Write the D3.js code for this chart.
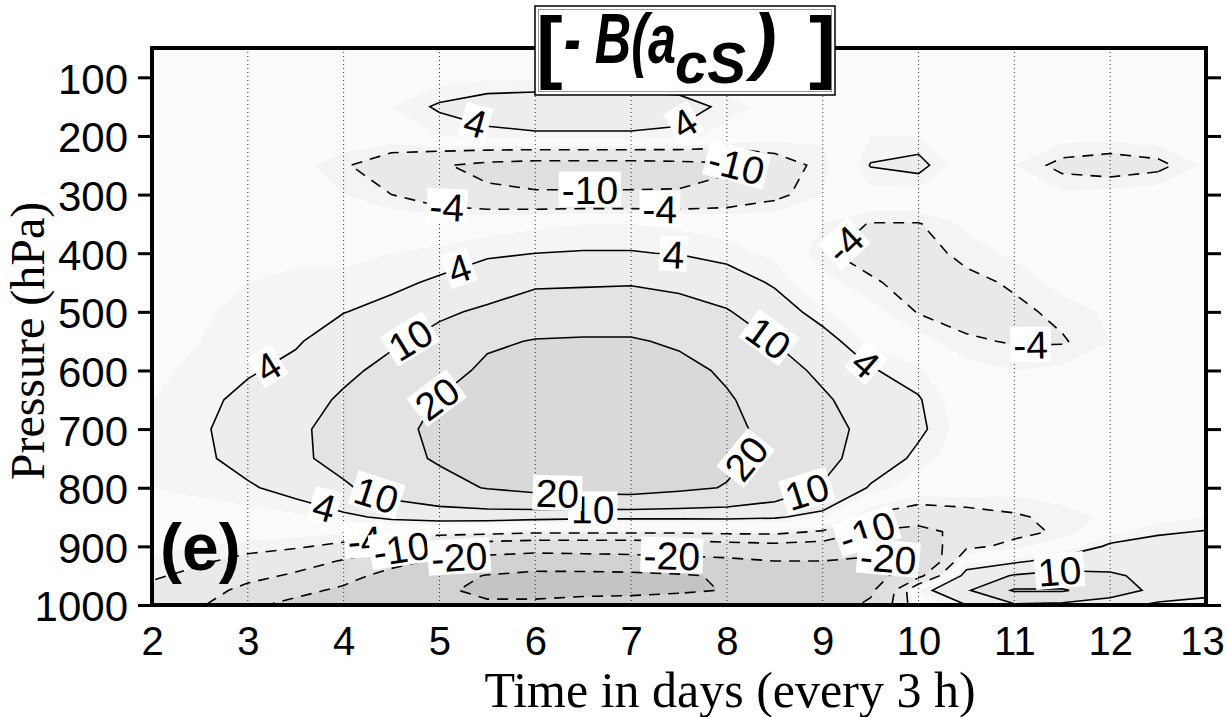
<!DOCTYPE html>
<html>
<head>
<meta charset="utf-8">
<script src="https://cdn.jsdelivr.net/npm/d3@7"></script>
<style>
  body { margin: 0; background: #fff; }
  svg { display: block; }
</style>
</head>
<body>
<svg id="chart" width="1227" height="717"></svg>
<script>
// grid columns: time in days, rows: pressure levels (hPa), top to bottom
var days = [2, 2.5, 3, 3.5, 4, 4.5, 5, 5.5, 6, 6.5, 7, 7.5, 8, 8.5, 9, 9.5, 10, 10.5, 11, 11.5, 12, 12.5, 13];
var levels = [50, 100, 150, 200, 250, 300, 350, 400, 450, 500, 550, 600, 650, 700, 750, 800, 850, 875, 900, 925, 950, 975, 1000];

// -B(acS), one row per pressure level
var field = [
  /*  50 */ [0, 0, 0, 0, 0, 0, 0, 0, 0, 0, 0, 0, 0, 0, 0, 0, 0, 0, 0, 0, 0, 0, 0],
  /* 100 */ [0, 0, 0, 0, 0, 0.5, 1, 1.5, 1.5, 1.5, 1.5, 1, 0.5, 0, 0, 0, 0, 0, 0, 0, 0, 0, 0],
  /* 150 */ [0, 0, 0, 0, 0.5, 2, 4.5, 6, 6.5, 6.5, 6.5, 6, 3, 1, 0, 0, 0, 0, 0, 0, 0, 0, 0],
  /* 200 */ [0, 0, 0, 0, 0, 0, 2, 3, 3.5, 3.5, 3.5, 3, 1, -1, -1.5, 2, 2, 0.5, -0.5, -1, -1, -0.5, 0],
  /* 250 */ [0, 0, 0, -1, -3.5, -7, -9.5, -11.5, -12.5, -12.5, -12.5, -12, -11, -6, -3, 4.2, 5.2, 0, -2, -5, -6, -5, -1.5],
  /* 300 */ [0, 0, 0, -0.5, -2, -4, -7, -9, -9.5, -9.5, -9.5, -9.5, -8, -5, -2, 1, 1, 0, -1, -1.5, -1, -0.5, 0],
  /* 350 */ [0, 0, 0.5, 0.5, 0.5, 0, 0.5, 1, 1.5, 2, 2, 1.5, 1, 0, -2, -4.2, -4.2, -1.5, 0, 0, 0, 0, 0],
  /* 400 */ [0, 0.5, 1, 1.5, 1.5, 2, 2.5, 3.3, 4, 4.2, 4.2, 3.8, 2.8, 1.5, -3.5, -5.5, -5.5, -3, -1.5, 0, 0, 0, 0],
  /* 450 */ [0.5, 1, 2, 2.5, 2.5, 3.3, 4.5, 7, 9, 9.2, 9.5, 8.5, 6, 3.5, -1, -3.5, -5.5, -5, -3.5, -1, 0, 0, 0],
  /* 500 */ [1, 1.5, 3, 3.5, 3.9, 5, 9, 11, 13.5, 14, 14, 12.5, 10.5, 6, 2.5, -1, -4.2, -5.5, -4.8, -3.2, -1.5, 0, 0],
  /* 550 */ [1, 2, 3.5, 3.6, 6, 9, 12, 18.5, 20.5, 21, 21, 18.5, 15, 9.8, 5.5, 1.5, -1, -3.5, -4.3, -4.3, -2, 0, 0],
  /* 600 */ [1.5, 2.5, 3.6, 5, 8.5, 12, 16, 22, 25, 26, 26, 23, 18.5, 13, 8.5, 4.3, 2.5, -1, -2, -1.5, -0.5, 0, 0],
  /* 650 */ [2, 3, 5, 7, 11, 15, 20.5, 25, 28, 29, 28.5, 26, 21, 15.5, 11, 6.5, 4.3, 0, -0.5, 0, 0, 0, 0],
  /* 700 */ [2.5, 3.4, 6, 8.5, 13, 17.5, 22, 26, 29, 30, 29, 27, 22.5, 17, 12.5, 8, 4.8, 0.5, 0, 0, 0, 0, 0],
  /* 750 */ [2.5, 3.2, 5.5, 8.5, 12.5, 17, 21, 25, 28, 29, 28, 26, 22, 17, 12, 7, 3, 0.5, 0, 0, 0, 0, 0],
  /* 800 */ [2, 2.5, 3.5, 5.5, 9, 13.5, 17, 20.5, 23, 24, 24.5, 22, 19.5, 15, 9.5, 3.5, 0, 0, -1, -0.5, 0, 0.5, 1],
  /* 850 */ [1, 1, 1, 1.5, 3, 5, 6, 6, 5.5, 5, 5, 5, 5, 4.5, 2.5, -5, -7, -6, -4.5, -3, -1.5, 1, 2],
  /* 875 */ [0, 0, -0.5, -1, -1.5, -1, -1.5, -2, -3, -3, -3, -3, -2.5, -2.5, -4.5, -10.5, -12, -8, -5, -3.5, 1, 3.5, 4.2],
  /* 900 */ [-1, -2, -3, -3.5, -5, -8, -12, -14, -15, -15, -15, -14.5, -13, -12, -13, -15, -15, -5, -3, 0, 4.8, 5.5, 6],
  /* 925 */ [-2.5, -3.5, -5, -7, -10.5, -16, -22, -24, -26, -25, -24, -23, -22, -20, -20, -22, -20, 1, 3, 6, 7, 7, 7],
  /* 950 */ [-3.5, -5, -8, -11, -16, -24, -33, -41, -46, -46, -45, -42, -38, -32, -26, -25, -12, 6, 10.5, 12, 11, 8, 7],
  /* 975 */ [-5, -7, -12, -17, -22, -30, -38, -43, -46, -45, -44, -42, -39.5, -35, -28, -22, 2, 9, 21, 21, 14, 8, 6],
  /* 1000 */ [-7, -9, -18, -23, -28, -34, -39, -38, -36, -33, -33, -32, -32, -30, -26, -18, 0, 4, 9, 8, 6, 3, 2]
];

var contourLevels = [-40, -20, -10, -4, 4, 10, 20, 40];
var shadeLevels = [-40, -20, -10, -4, -2, 2, 4, 10, 20, 40];
var dayTicks = [2, 3, 4, 5, 6, 7, 8, 9, 10, 11, 12, 13];
var hpaTicks = [100, 200, 300, 400, 500, 600, 700, 800, 900, 1000];
var gridDays = [3, 4, 5, 6, 7, 8, 9, 10, 11, 12];

// where the contour labels sit: [level, day, hPa]
var labelSpots = [
  [4, 3.23, 599], [4, 5.2, 423], [4, 7.44, 408], [4, 9.44, 590], [4, 3.8, 833],
  [10, 4.7, 548], [10, 8.42, 548], [10, 4.36, 804], [10, 6.6, 842], [10, 8.84, 809],
  [20, 4.93, 638], [20, 8.24, 753], [20, 6.23, 816],
  [4, 5.35, 192], [4, 7.58, 185],
  [-4, 5.08, 314], [-10, 6.57, 297], [-4, 7.3, 325], [-10, 8.14, 240],
  [-4, 9.23, 385], [-4, 11.17, 556],
  [-4, 4.22, 890], [-10, 4.6, 903], [-20, 5.2, 903], [-20, 7.43, 885],
  [-10, 9.44, 864], [-20, 9.68, 929], [10, 11.46, 919]
];

var sans = "'Liberation Sans', Arial, Helvetica, sans-serif";
var serif = "'Liberation Serif', 'Times New Roman', Times, serif";

var pL = 152, pR = 1206, pT = 48, pB = 605;
var svg = d3.select("#chart");

var x = d3.scaleLinear().domain([2, 13]).range([pL, pR]);
var y = d3.scaleLinear().domain([50, 1000]).range([pT, pB]);

// grid units -> data units (value i sits at i + 0.5 in d3.contours)
var n = days.length, m = levels.length;
var colDay = d3.scaleLinear().domain(d3.range(n).map(function(i) { return i + 0.5; })).range(days).clamp(true);
var rowHpa = d3.scaleLinear().domain(d3.range(m).map(function(j) { return j + 0.5; })).range(levels).clamp(true);

var grid = [];
field.forEach(function(row) { grid = grid.concat(row); });

var proj = d3.geoTransform({
  point: function(cx, cy) { this.stream.point(x(colDay(cx)), y(rowHpa(cy))); }
});
var path = d3.geoPath(proj);

svg.append("defs").append("clipPath").attr("id", "plot")
  .append("rect").attr("x", pL).attr("y", pT).attr("width", pR - pL).attr("height", pB - pT);

var plot = svg.append("g").attr("clip-path", "url(#plot)");

// shading
var shadeColors = ["#d2d2d2", "#dfdfdf", "#e9e9e9", "#f4f4f4", "#fbfbfb", "#f5f5f5", "#ededed", "#e3e3e3", "#d9d9d9", "#cdcdcd"];
plot.append("rect").attr("x", pL).attr("y", pT).attr("width", pR - pL).attr("height", pB - pT)
  .attr("fill", "#c4c4c4");
var shade = d3.contours().size([n, m]).thresholds(shadeLevels)(grid);
plot.selectAll("path.shade").data(shade).join("path")
  .attr("class", "shade")
  .attr("d", path)
  .attr("fill", function(d, i) { return shadeColors[i]; });

// dotted day lines
plot.selectAll("line.grid").data(gridDays).join("line")
  .attr("class", "grid")
  .attr("x1", function(d) { return x(d); }).attr("x2", function(d) { return x(d); })
  .attr("y1", pT).attr("y2", pB)
  .attr("stroke", "#333").attr("stroke-width", 1).attr("stroke-dasharray", "1,3");

// contour lines
var lines = d3.contours().size([n, m]).thresholds(contourLevels)(grid);
plot.selectAll("path.iso").data(lines).join("path")
  .attr("class", "iso")
  .attr("d", path)
  .attr("fill", "none")
  .attr("stroke", "#000")
  .attr("stroke-width", 1.6)
  .attr("stroke-dasharray", function(d) { return d.value < 0 ? "11,8" : null; });

// contour labels, snapped onto the computed line
function pixelRings(c) {
  var rings = [];
  c.coordinates.forEach(function(poly) {
    poly.forEach(function(ring) {
      rings.push(ring.map(function(p) { return [x(colDay(p[0])), y(rowHpa(p[1]))]; }));
    });
  });
  return rings;
}
function onFrame(p) {
  return p[0] <= pL + 1 || p[0] >= pR - 1 || p[1] <= pT + 1 || p[1] >= pB - 1;
}
function snap(rings, px, py) {
  var best = null;
  rings.forEach(function(r) {
    for (var k = 0; k < r.length - 1; k++) {
      var a = r[k], b = r[k + 1];
      if (onFrame(a) && onFrame(b)) continue;
      var dx = b[0] - a[0], dy = b[1] - a[1], L = dx * dx + dy * dy;
      if (!L) continue;
      var t = Math.max(0, Math.min(1, ((px - a[0]) * dx + (py - a[1]) * dy) / L));
      var qx = a[0] + t * dx, qy = a[1] + t * dy, d = Math.hypot(px - qx, py - qy);
      if (!best || d < best.d) best = { x: qx, y: qy, d: d, ang: Math.atan2(dy, dx) * 180 / Math.PI };
    }
  });
  return best;
}

var ringsByLevel = {};
lines.forEach(function(c) { ringsByLevel[c.value] = pixelRings(c); });

var labels = svg.append("g").attr("clip-path", "url(#plot)");
labelSpots.forEach(function(s) {
  var hit = snap(ringsByLevel[s[0]] || [], x(s[1]), y(s[2]));
  if (!hit || hit.d > 60) return;
  var ang = hit.ang;
  if (ang > 90) ang -= 180;
  if (ang < -90) ang += 180;
  var g = labels.append("g").attr("transform", "translate(" + hit.x + "," + hit.y + ") rotate(" + ang + ")");
  var rect = g.append("rect").attr("fill", "#fff");
  var t = g.append("text")
    .attr("text-anchor", "middle")
    .attr("dy", "0.36em")
    .attr("font-family", sans)
    .attr("font-size", 39)
    .text(String(s[0]));
  var w = t.node().getComputedTextLength();
  rect.attr("x", -w / 2 - 3).attr("y", -18).attr("width", w + 6).attr("height", 35);
});

// panel letter
svg.append("text")
  .attr("x", 160).attr("y", 570)
  .attr("font-family", sans).attr("font-weight", "bold").attr("font-size", 66)
  .text("(e)");

// frame
svg.append("rect")
  .attr("x", pL).attr("y", pT).attr("width", pR - pL).attr("height", pB - pT)
  .attr("fill", "none").attr("stroke", "#000").attr("stroke-width", 4);

// axes
var yAxis = svg.append("g").attr("transform", "translate(" + pL + ",0)")
  .call(d3.axisLeft(y).tickValues(hpaTicks).tickSize(14).tickPadding(10).tickFormat(d3.format("d")));
yAxis.select(".domain").remove();
yAxis.attr("font-family", sans).attr("font-size", 42);
yAxis.selectAll("line").attr("stroke-width", 3);
yAxis.selectAll("text").attr("dy", "0.38em");

var yAxisR = svg.append("g").attr("transform", "translate(" + pR + ",0)")
  .call(d3.axisRight(y).tickValues(hpaTicks).tickSize(15).tickFormat(""));
yAxisR.select(".domain").remove();
yAxisR.selectAll("line").attr("stroke-width", 3);

var xAxis = svg.append("g").attr("transform", "translate(0," + pB + ")")
  .call(d3.axisBottom(x).tickValues(dayTicks).tickSize(0).tickPadding(22));
xAxis.select(".domain").remove();
xAxis.attr("font-family", sans).attr("font-size", 40);
xAxis.selectAll("text").filter(function(d) { return d === 13; }).attr("dx", -4);

svg.append("text")
  .attr("x", 730).attr("y", 707)
  .attr("text-anchor", "middle")
  .attr("font-family", serif).attr("font-size", 50)
  .text("Time in days (every 3 h)");

svg.append("text")
  .attr("transform", "translate(44,341) rotate(-90)")
  .attr("text-anchor", "middle")
  .attr("font-family", serif).attr("font-size", 48)
  .text("Pressure (hPa)");

// title box
var title = svg.append("g");
title.append("rect").attr("x", 535).attr("y", 6).attr("width", 300).attr("height", 89)
  .attr("fill", "#fff").attr("stroke", "#000").attr("stroke-width", 1.5);
title.append("rect").attr("x", 538.5).attr("y", 9.5).attr("width", 293).attr("height", 82)
  .attr("fill", "none").attr("stroke", "#999").attr("stroke-width", 1);
title.append("text").attr("x", 536).attr("y", 73)
  .attr("font-family", sans).attr("font-weight", "bold").attr("font-size", 80).text("[");
title.append("text").attr("x", 809).attr("y", 73)
  .attr("font-family", sans).attr("font-weight", "bold").attr("font-size", 80).text("]");
title.append("text").attr("x", 564).attr("y", 63)
  .attr("font-family", sans).attr("font-weight", "bold").attr("font-style", "italic").attr("font-size", 70)
  .attr("textLength", 112).attr("lengthAdjust", "spacingAndGlyphs")
  .text("- B(a");
title.append("text").attr("x", 675).attr("y", 83)
  .attr("font-family", sans).attr("font-weight", "bold").attr("font-style", "italic").attr("font-size", 58)
  .text("cS");
title.append("text").attr("x", 752).attr("y", 66)
  .attr("font-family", sans).attr("font-weight", "bold").attr("font-style", "italic").attr("font-size", 74)
  .text(")");
</script>
</body>
</html>
